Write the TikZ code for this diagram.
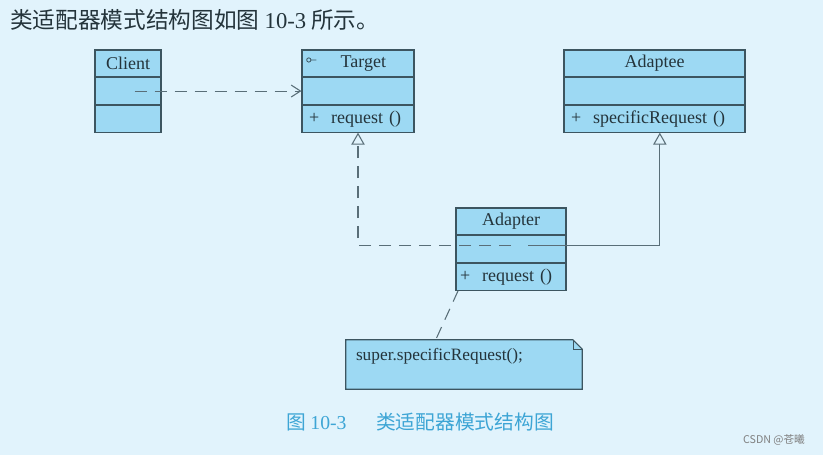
\documentclass[tikz,border=0pt]{standalone}
\usepackage{fontspec}
\setmainfont{Liberation Serif}
\newfontfamily\cjk{Noto Sans CJK SC}
\usetikzlibrary{positioning,arrows.meta}
\definecolor{bgcol}{HTML}{E1F3FC}
\definecolor{boxcol}{HTML}{9DD9F3}
\definecolor{linecol}{HTML}{3C5560}
\definecolor{txtcol}{HTML}{24343B}
\definecolor{capcol}{HTML}{3DA5D5}
\tikzset{
	cls/.style={draw=linecol, fill=boxcol, line width=0.8pt, minimum height=20pt, inner xsep=3pt, inner ysep=0pt, text width=#1, text=txtcol, font=\fontsize{13.5}{14}\selectfont},
	ttl/.style={cls=#1, align=center},
	mth/.style={cls=#1, align=left},
	dep/.style={draw=linecol!85, line width=0.8pt, dash pattern=on 9pt off 6pt},
	gen/.style={-{Triangle[open, length=9pt, width=10pt, fill=bgcol]}},
}
\begin{document}
\begin{tikzpicture}[x=0.75pt, y=-0.75pt]
	\fill[bgcol] (0,0) rectangle (823,455);
	
	\node[anchor=west, inner sep=0, text=txtcol, font=\cjk\fontsize{17}{18}\selectfont] (head) at (10,20) {类适配器模式结构图如图 {\rmfamily 10-3} 所示。};
	
	\node[ttl=43.5pt] (client) at (128,63.3) {Client};
	\node[mth=43.5pt, below=0pt of client] (client2) {};
	\node[mth=43.5pt, below=0pt of client2] (client3) {};
	
	\node[ttl=78pt] (target) at (358,63.3) {\hspace{8pt}Target};
	\node[mth=78pt, below=0pt of target] (target2) {};
	\node[mth=78pt, below=0pt of target2] (target3) {\,+\ \ request ()};
	\draw[linecol, line width=0.6pt] ([xshift=5.5pt,yshift=2.5pt]target.west) circle (1.6pt) ++(1.6pt,0) -- ++(4pt,0);
	
	\node[ttl=129.75pt] (adaptee) at (654.5,63.3) {Adaptee};
	\node[mth=129.75pt, below=0pt of adaptee] (adaptee2) {};
	\node[mth=129.75pt, below=0pt of adaptee2] (adaptee3) {\,+\ \ specificRequest ()};
	
	\node[ttl=76.5pt] (adapter) at (511,221.3) {Adapter};
	\node[mth=76.5pt, below=0pt of adapter] (adapter2) {};
	\node[mth=76.5pt, below=0pt of adapter2] (adapter3) {+\ \ request ()};
	
	\node[minimum width=177pt, minimum height=36.75pt, inner sep=0] (note) at (464,364.5) {};
	\draw[linecol, line width=0.8pt, fill=boxcol] (note.north west) -- ([xshift=-7pt]note.north east) -- ([yshift=-7pt]note.north east) -- (note.south east) -- (note.south west) -- cycle;
	\draw[linecol, line width=0.6pt] ([xshift=-7pt]note.north east) |- ([yshift=-7pt]note.north east);
	\node[anchor=west, inner sep=0, text=txtcol, font=\fontsize{13}{14}\selectfont] (notetxt) at ([xshift=7.5pt,yshift=-12.5pt]note.north west) {super.specificRequest();};
	
	\draw[dep, -{Straight Barb[length=7pt, width=9pt]}] ([xshift=5pt]client2.center) -- (target2.west);
	\draw[dep, gen] ([yshift=3pt]adapter2.center) -| (target3.south);
	\draw[linecol!85, line width=0.8pt, gen] ([xshift=13pt,yshift=3pt]adapter2.center) -| ([xshift=4pt]adaptee3.south);
	\draw[dep] ([xshift=2pt]adapter3.south west) -- ([xshift=67.5pt]note.north west);
	
	\node[inner sep=0, text=capcol, font=\cjk\fontsize{14.8}{16}\selectfont] (caption) at (420,422) {图 {\rmfamily 10-3}\hspace{1.5em}类适配器模式结构图};
	\node[inner sep=0, text=gray, font=\cjk\fontsize{8}{9}\selectfont] (mark) at (774,440) {CSDN @苍曦};
\end{tikzpicture}
\end{document}
